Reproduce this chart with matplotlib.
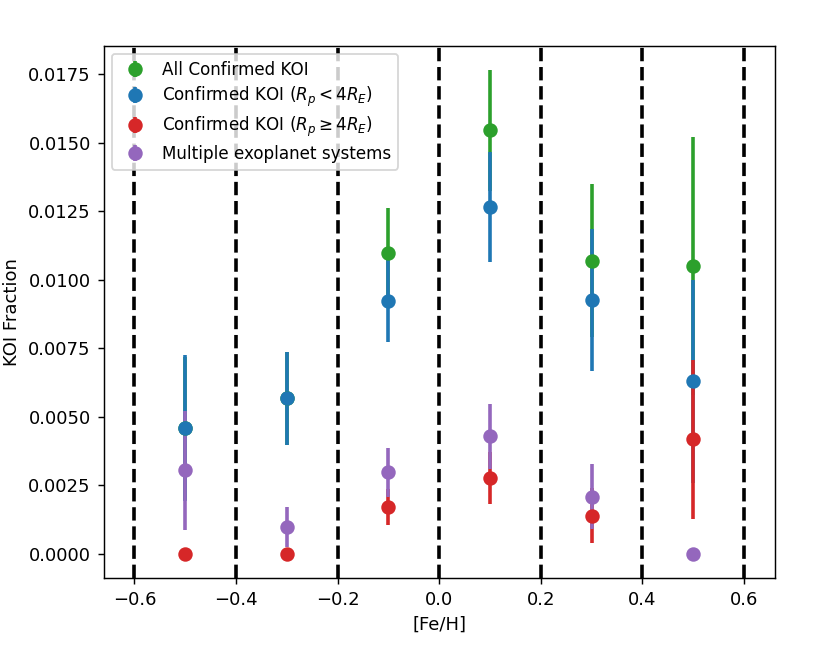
import matplotlib
matplotlib.use("Agg")
import matplotlib.pyplot as plt

feh = [-0.5, -0.3, -0.1, 0.1, 0.3, 0.5]
bin_edges = [-0.6, -0.4, -0.2, 0.0, 0.2, 0.4, 0.6]

all_koi = [0.00458, 0.00567, 0.01098, 0.01545, 0.01069, 0.0105]
all_koi_err = [0.0026, 0.0017, 0.00165, 0.0022, 0.0028, 0.0047]

small_koi = [0.00458, 0.00567, 0.00922, 0.01266, 0.00926, 0.0063]
small_koi_err = [0.00267, 0.0017, 0.0015, 0.002, 0.0026, 0.0037]

large_koi = [0.0, 0.0, 0.00172, 0.00275, 0.00139, 0.00417]
large_koi_err = [0.0, 0.0, 0.00066, 0.00095, 0.001, 0.0029]

multi = [0.00304, 0.00099, 0.00297, 0.00428, 0.00209, 0.0]
multi_err = [0.00216, 0.00073, 0.0009, 0.0012, 0.0012, 0.0]

dpi = 130
fig = plt.figure(figsize=(830 / dpi, 649 / dpi), dpi=dpi)
ax = fig.add_axes([0.1247, 0.1094, 0.809, 0.8202])

for e in bin_edges:
    ax.axvline(e, color="black", linestyle="--", linewidth=2, zorder=1)

series = [
    (all_koi, all_koi_err, "tab:green", "All Confirmed KOI"),
    (small_koi, small_koi_err, "tab:blue", r"Confirmed KOI ($R_p < 4R_E$)"),
    (large_koi, large_koi_err, "tab:red", r"Confirmed KOI ($R_p \geq 4R_E$)"),
    (multi, multi_err, "tab:purple", "Multiple exoplanet systems"),
]
for vals, errs, col, lab in series:
    ax.errorbar(feh, vals, yerr=errs, fmt="o", color=col, label=lab,
                elinewidth=2, markersize=7, zorder=2)

ax.set_xlim(-0.661, 0.661)
ax.set_xticks(bin_edges)
ax.set_xlabel("[Fe/H]")
ax.set_ylabel("KOI Fraction")
ax.legend(loc="upper left", fontsize=9.3, labelspacing=0.35, handletextpad=0.6)

fig.savefig("out.png", dpi=dpi)
